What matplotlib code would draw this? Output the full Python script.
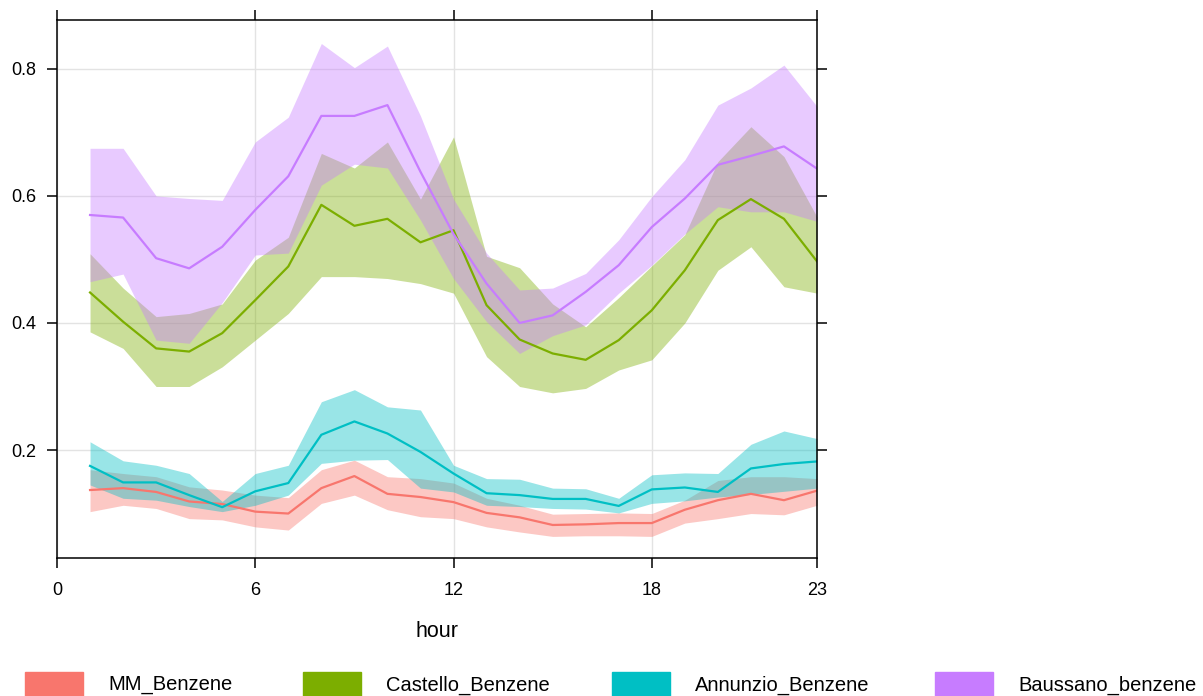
import matplotlib
matplotlib.use("Agg")
import matplotlib.pyplot as plt
from matplotlib.patches import Rectangle

plt.rcParams['font.family'] = ['Liberation Sans', 'DejaVu Sans']

hours = list(range(1, 24))

# hourly means with lower / upper confidence limits
mm_mean = [0.137, 0.140, 0.134, 0.119, 0.115, 0.103, 0.100, 0.140, 0.159, 0.131, 0.126, 0.118,
           0.101, 0.094, 0.082, 0.083, 0.085, 0.085, 0.106, 0.121, 0.131, 0.121, 0.136]
mm_upper = [0.169, 0.163, 0.158, 0.142, 0.137, 0.129, 0.125, 0.169, 0.184, 0.158, 0.155, 0.148,
            0.124, 0.113, 0.099, 0.100, 0.101, 0.100, 0.121, 0.152, 0.158, 0.158, 0.155]
mm_lower = [0.103, 0.113, 0.108, 0.092, 0.090, 0.079, 0.074, 0.116, 0.129, 0.106, 0.095, 0.092,
            0.079, 0.071, 0.064, 0.065, 0.065, 0.064, 0.085, 0.092, 0.100, 0.098, 0.113]

castello_mean = [0.448, 0.402, 0.360, 0.355, 0.384, 0.436, 0.489, 0.586, 0.553, 0.564, 0.527, 0.546,
                 0.428, 0.374, 0.352, 0.342, 0.373, 0.420, 0.483, 0.562, 0.595, 0.564, 0.497]
castello_upper = [0.509, 0.455, 0.410, 0.415, 0.430, 0.499, 0.535, 0.667, 0.644, 0.685, 0.595, 0.693,
                  0.505, 0.487, 0.430, 0.394, 0.440, 0.490, 0.539, 0.654, 0.709, 0.662, 0.567]
castello_lower = [0.386, 0.360, 0.300, 0.300, 0.331, 0.373, 0.415, 0.473, 0.473, 0.470, 0.462, 0.447,
                  0.347, 0.300, 0.290, 0.297, 0.326, 0.342, 0.400, 0.483, 0.520, 0.457, 0.447]

annunzio_mean = [0.175, 0.149, 0.149, 0.129, 0.110, 0.135, 0.148, 0.224, 0.245, 0.226, 0.197, 0.163,
                 0.132, 0.129, 0.123, 0.123, 0.112, 0.138, 0.141, 0.134, 0.171, 0.178, 0.182]
annunzio_upper = [0.213, 0.183, 0.176, 0.163, 0.119, 0.163, 0.176, 0.276, 0.295, 0.268, 0.263, 0.176,
                  0.155, 0.154, 0.140, 0.139, 0.124, 0.161, 0.164, 0.163, 0.209, 0.230, 0.218]
annunzio_lower = [0.145, 0.124, 0.121, 0.111, 0.103, 0.113, 0.129, 0.179, 0.184, 0.185, 0.140, 0.134,
                  0.113, 0.111, 0.108, 0.107, 0.101, 0.116, 0.120, 0.126, 0.130, 0.135, 0.140]

baussano_mean = [0.570, 0.566, 0.502, 0.486, 0.520, 0.578, 0.631, 0.726, 0.726, 0.743, 0.638, 0.540,
                 0.462, 0.400, 0.412, 0.449, 0.491, 0.551, 0.596, 0.649, 0.663, 0.678, 0.643]
baussano_upper = [0.675, 0.675, 0.600, 0.596, 0.593, 0.685, 0.724, 0.840, 0.802, 0.836, 0.726, 0.595,
                  0.510, 0.452, 0.455, 0.478, 0.531, 0.599, 0.657, 0.743, 0.770, 0.806, 0.741]
baussano_lower = [0.465, 0.477, 0.373, 0.368, 0.432, 0.507, 0.510, 0.617, 0.650, 0.644, 0.562, 0.470,
                  0.402, 0.352, 0.380, 0.397, 0.447, 0.491, 0.540, 0.583, 0.575, 0.575, 0.560]

names = ["MM_Benzene", "Castello_Benzene", "Annunzio_Benzene", "Baussano_benzene"]
colors = ["#F8766D", "#7CAE00", "#00BFC4", "#C77CFF"]
series = [(mm_mean, mm_lower, mm_upper),
          (castello_mean, castello_lower, castello_upper),
          (annunzio_mean, annunzio_lower, annunzio_upper),
          (baussano_mean, baussano_lower, baussano_upper)]

fig = plt.figure(figsize=(12.03, 6.96), dpi=100)
ax = fig.add_axes([57/1203, 1 - 558/696, (817 - 57)/1203, (558 - 20)/696])

for (mean, lo, hi), col in zip(series, colors):
    ax.fill_between(hours, lo, hi, color=col, alpha=0.4, linewidth=0)
for (mean, lo, hi), col in zip(series, colors):
    ax.plot(hours, mean, color=col, linewidth=1.6)

ax.set_xlim(0, 23)
ax.set_ylim(0.030, 0.877)
ax.set_xticks([0, 6, 12, 18, 23])
ax.set_yticks([0.2, 0.4, 0.6, 0.8])
ax.set_yticklabels(["0.2", "0.4", "0.6", "0.8"])
ax.grid(True, color="#e3e3e3", linewidth=1.0)
ax.set_axisbelow(True)
ax.tick_params(direction="out", length=7, width=1.1, top=True, right=True,
               labelsize=13)
ax.tick_params(axis="x", pad=10)
ax.tick_params(axis="y", pad=8)
for s in ax.spines.values():
    s.set_linewidth(1.1)
    s.set_color("black")
ax.set_xlabel("hour", fontsize=15.5, labelpad=16)

# legend strip along the bottom edge
leg_x = [25, 303, 612, 935]
for x0, col, name in zip(leg_x, colors, names):
    fig.patches.append(Rectangle((x0/1203, -0.02), 58/1203, 0.02 + (696 - 672)/696,
                                 transform=fig.transFigure, color=col, zorder=5))
    fig.text((x0 + 83)/1203, 1 - 685/696, name, fontsize=14.5, va="center", ha="left")

fig.savefig("out.png", dpi=100)
